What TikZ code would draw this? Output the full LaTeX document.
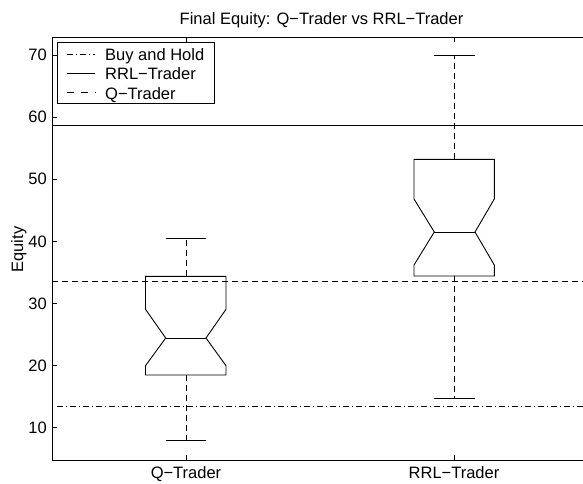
\documentclass[tikz,border=0pt]{standalone}
\usepackage{fontspec}
\setmainfont{Liberation Sans}
\begin{document}
\begin{tikzpicture}[x=1pt,y=-1pt,
  axisline/.style={line width=1pt,black},
  dataline/.style={line width=0.9pt,black},
  qdash/.style={dataline,dash pattern=on 6pt off 4pt},
  bhdash/.style={dataline,dash pattern=on 6pt off 3pt on 1pt off 3pt},
  whisk/.style={dataline,dash pattern=on 6pt off 4pt},
  lbl/.style={inner sep=0pt,font=\fontsize{16.5}{18}\selectfont},
]
\useasboundingbox (0,0) rectangle (583,483);
\fill[white] (0,0) rectangle (583,483);
% reference lines
\draw[dataline] (52,125) -- (583,125);
\draw[qdash] (52,281) -- (583,281);
\draw[bhdash] (57,406.5) -- (583,406.5);
% Q-Trader box
\draw[whisk] (186,276.3) -- (186,238);
\draw[whisk] (186,375) -- (186,440.7);
\draw[dataline] (166,238) -- (206,238);
\draw[dataline] (166,440.7) -- (206,440.7);
\draw[dataline] (145.5,276.3) -- (226,276.3) -- (226,309.3) -- (206,338) -- (226,365.7) -- (226,375)
  -- (145.5,375) -- (145.5,365.7) -- (165.7,338) -- (145.5,309.3) -- cycle;
\draw[dataline] (165.7,338) -- (206,338);
% RRL-Trader box
\draw[whisk] (454,159.3) -- (454,55.7);
\draw[whisk] (454,276) -- (454,398.7);
\draw[dataline] (434,55.7) -- (474.5,55.7);
\draw[dataline] (434,398.7) -- (474.5,398.7);
\draw[dataline] (414,159.3) -- (494.3,159.3) -- (494.3,199) -- (475,232) -- (494.3,265) -- (494.3,276)
  -- (414,276) -- (414,265) -- (434.3,232) -- (414,199) -- cycle;
\draw[dataline] (434.3,232) -- (475,232);
% axes
\draw[axisline] (583,37) -- (52,37) -- (52,460) -- (583,460);
\foreach \yy/\v in {55/70,117.1/60,179.3/50,241.4/40,303.5/30,365.7/20,427.8/10}{
  \draw[axisline] (52,\yy) -- (57,\yy);
  \node[lbl,anchor=east] (tick\v) at (47,\yy) {\v};
}
\foreach \xx/\n in {186/q,454/r}{
  \draw[axisline] (\xx,460) -- (\xx,455);
  \draw[axisline] (\xx,37) -- (\xx,42);
}
\node[lbl,anchor=base] (xq) at (186,478) {Q−Trader};
\node[lbl,anchor=base] (xr) at (454,478) {RRL−Trader};
\node[lbl,rotate=90] (ylab) at (18.8,249.5) {Equity};
\node[lbl,anchor=base] (title) at (321.5,24.5) {Final Equity: Q−Trader vs RRL−Trader};
% legend
\draw[line width=1pt,fill=white] (57.3,42.7) rectangle (214,103.5);
\draw[bhdash] (66.7,54.3) -- (95,54.3);
\draw[dataline] (66.7,73.5) -- (95,73.5);
\draw[dataline,dash pattern=on 7pt off 7pt] (66.7,92.5) -- (95,92.5);
\node[lbl,anchor=base west] (lg1) at (105,60.5) {Buy and Hold};
\node[lbl,anchor=base west] (lg2) at (105,79.8) {RRL−Trader};
\node[lbl,anchor=base west] (lg3) at (105,99) {Q−Trader};
\end{tikzpicture}
\end{document}
